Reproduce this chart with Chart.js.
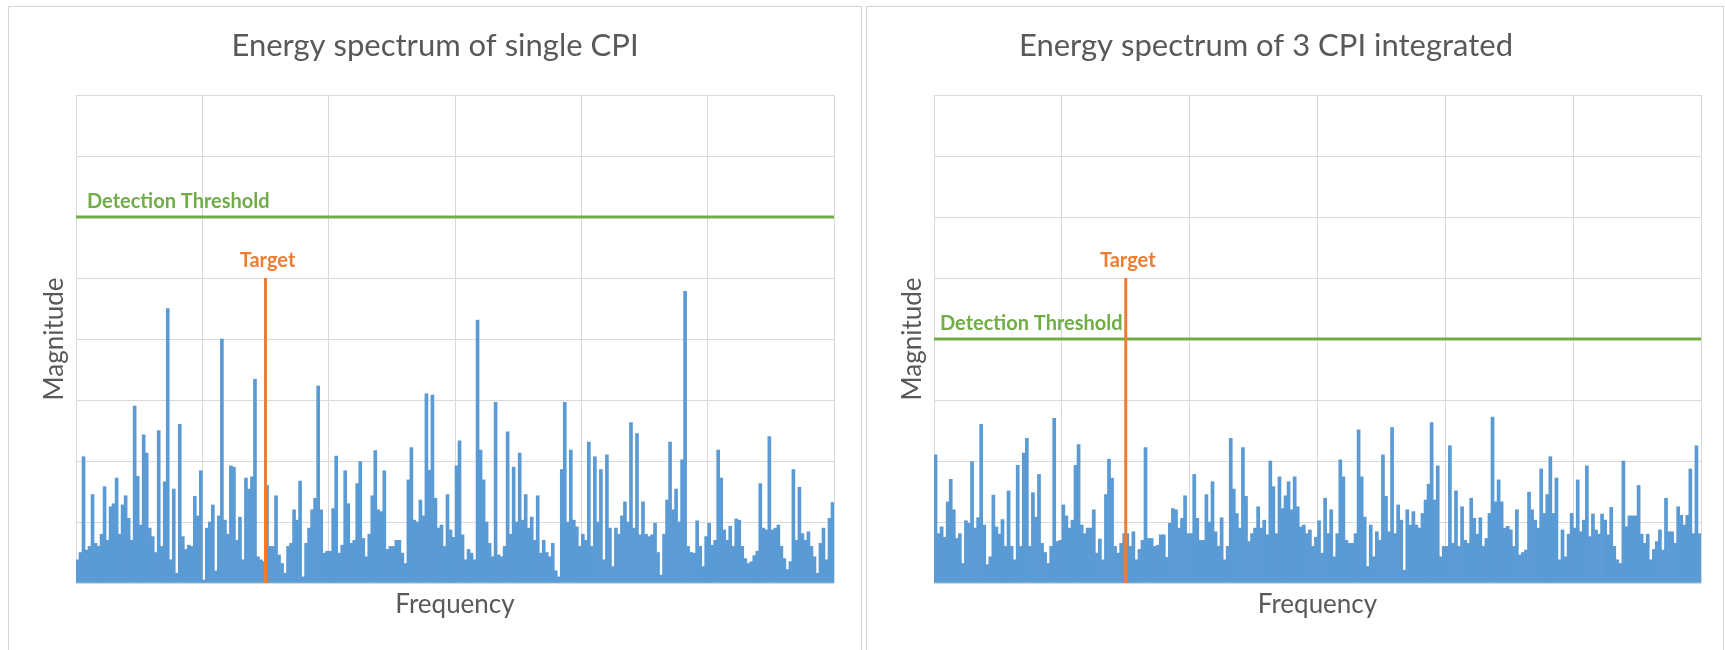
<!DOCTYPE html>
<html><head><meta charset="utf-8">
<script src="https://cdn.jsdelivr.net/npm/chart.js@4.4.0/dist/chart.umd.min.js"></script>
<style>
html,body{margin:0;padding:0;background:#fff;width:1725px;height:650px;overflow:hidden;}
.panel{position:absolute;border:1px solid #d4d4d4;box-sizing:border-box;}
canvas{position:absolute;left:0;top:0;}
</style></head><body>
<div class="panel" style="left:8px;top:6px;width:854px;height:680px"></div>
<div class="panel" style="left:866px;top:6px;width:858px;height:680px"></div>
<canvas id="c1" width="1725" height="650"></canvas>
<canvas id="c2" width="1725" height="650"></canvas>
<script>
const binCount = 252;
const targetBin = 63;
const targetLevel = 5;
const singleThreshold = 6;
const integratedThreshold = 4;
const yMax = 8;

const singleCpi = [
0.38,0.5,2.07,0.54,0.6,1.45,0.65,0.6,0.8,1.58,
0.7,1.25,1.3,1.72,0.8,1.28,1.43,1.06,0.7,2.9,
1.75,0.95,2.43,2.13,0.9,0.76,0.5,2.5,0.6,1.66,
4.5,0.38,1.54,0.16,2.6,0.76,0.55,0.62,0.6,1.42,
1.1,1.84,0.05,0.9,1.0,1.28,0.2,1.1,4.0,1.03,
0.8,1.92,1.9,0.7,1.08,0.38,1.72,1.54,1.74,3.34,
0.43,0.38,0.35,1.6,0.6,0.6,1.43,0.46,0.32,0.16,
0.6,0.65,1.2,1.03,1.67,0.1,0.65,0.9,1.2,1.39,
3.23,1.2,0.49,0.52,0.52,1.22,2.08,0.49,0.62,1.84,
1.3,0.65,0.7,1.63,1.99,0.73,0.43,0.8,1.43,2.17,
1.2,1.17,1.84,0.55,0.6,0.6,0.7,0.7,0.49,0.32,
1.69,2.22,1.03,1.0,1.36,1.1,3.1,1.85,3.08,1.39,
0.9,0.95,0.6,1.45,0.87,0.75,1.92,2.33,0.79,0.38,
0.55,0.49,0.38,4.31,2.18,1.69,1.0,0.65,0.43,2.96,
0.46,0.43,0.6,2.48,0.8,1.9,1.0,2.13,1.03,1.45,
0.9,1.08,0.7,1.43,0.49,0.7,0.5,0.43,0.65,0.2,
0.1,1.86,2.96,1.0,2.18,1.03,0.92,0.6,0.8,0.7,
2.31,0.6,2.07,1.0,1.86,0.38,2.1,0.9,0.27,0.9,
0.8,1.1,1.33,1.0,2.63,0.9,2.45,0.79,1.33,0.8,
0.76,0.79,0.98,0.5,0.13,0.8,1.36,2.31,1.2,1.54,
1.0,2.02,4.78,0.6,0.5,0.49,1.02,0.6,0.27,0.76,
0.98,0.62,0.7,2.18,1.72,0.87,0.7,0.93,0.6,1.05,
1.03,0.6,0.4,0.32,0.35,0.45,0.52,1.63,0.9,0.87,
2.4,0.87,0.9,0.95,0.6,0.4,0.22,0.35,1.86,0.7,
1.57,0.81,0.7,0.84,0.6,0.43,0.16,0.65,0.9,0.38,
1.06,1.32
];

const integratedCpi = [
2.1,0.81,0.92,0.75,1.33,1.7,1.2,0.73,0.81,0.32,
1.02,0.98,1.99,0.9,1.07,2.6,0.95,0.3,0.43,1.44,
0.92,0.8,1.04,0.6,1.51,0.6,0.38,1.93,0.6,2.13,
2.37,0.6,1.48,1.08,1.78,0.65,0.5,0.32,0.6,2.7,
0.68,0.7,1.28,1.1,0.9,1.03,1.93,2.27,0.95,0.81,
0.9,0.9,1.2,0.49,0.72,0.38,1.45,2.03,1.72,0.6,
0.49,0.65,0.81,0.81,0.6,0.84,0.38,0.55,0.7,2.22,
0.73,0.73,0.6,0.62,0.79,0.79,0.42,0.98,1.22,1.2,
0.9,1.06,1.43,0.81,0.81,1.78,1.06,0.7,0.7,1.45,
1.0,1.66,0.84,0.6,1.07,0.38,0.6,2.37,1.54,1.14,
0.9,2.22,1.42,0.68,0.81,0.9,1.25,0.9,1.03,0.79,
2.0,1.58,0.81,1.74,1.22,1.43,1.66,1.2,1.74,1.25,
0.92,0.95,0.81,0.87,0.6,0.75,1.02,0.49,1.39,0.81,
1.2,0.43,0.81,2.02,1.74,0.7,0.65,0.65,0.81,2.51,
1.74,1.08,0.27,0.95,0.43,0.84,0.7,2.1,1.42,0.84,
2.55,0.81,1.28,1.03,0.21,1.2,0.95,1.17,0.95,0.9,
1.14,1.36,1.62,2.63,1.36,1.92,0.43,0.6,0.6,2.25,
0.65,1.51,0.6,1.25,0.7,0.65,1.39,1.06,0.8,1.07,
0.6,0.73,1.14,2.72,1.33,1.69,1.33,0.9,0.93,0.87,
0.6,1.2,0.46,0.5,0.54,1.49,1.2,1.03,0.9,1.87,
1.14,1.45,2.07,1.14,1.72,0.38,0.87,0.43,0.8,1.14,
0.9,1.69,0.84,1.03,1.92,0.76,1.13,0.87,0.8,1.13,
1.03,0.79,1.24,0.6,0.38,0.32,2.0,0.92,1.1,1.1,
1.1,1.6,0.8,0.65,0.8,0.38,0.55,0.68,0.87,0.54,
1.39,0.84,0.84,0.65,1.25,1.11,0.95,1.11,1.87,0.81,
2.25,0.81
];

const chartTitles = ["Energy spectrum of single CPI", "Energy spectrum of 3 CPI integrated"];
const xAxisTitle = "Frequency";
const yAxisTitle = "Magnitude";
const thresholdLabel = "Detection Threshold";
const targetLabel = "Target";

const FONT = "Lato, 'Open Sans', sans-serif";
const GREY = '#595959';
const BLUE = '#5B9BD5';
const GREEN = '#70AD47';
const ORANGE = '#ED7D31';
const GRID = '#d9d9d9';

function makeChart(id, values, threshold, title, pad, titleX, yTitleX, thrOffset) {
  const annot = {
    id: 'annot_' + id,
    afterDatasetsDraw(chart) {
      const ctx = chart.ctx, xs = chart.scales.x, ys = chart.scales.y, a = chart.chartArea;
      ctx.save();
      ctx.font = 'bold 20px ' + FONT;
      ctx.textBaseline = 'alphabetic';
      ctx.fillStyle = GREEN;
      ctx.textAlign = 'left';
      ctx.fillText(thresholdLabel, a.left + thrOffset, ys.getPixelForValue(threshold) - 9);
      ctx.fillStyle = ORANGE;
      ctx.textAlign = 'center';
      ctx.fillText(targetLabel, xs.getPixelForValue(targetBin) + 2, ys.getPixelForValue(targetLevel) - 11);
      ctx.restore();
    },
    afterDraw(chart) {
      const ctx = chart.ctx, a = chart.chartArea;
      ctx.save();
      ctx.fillStyle = GREY;
      ctx.textBaseline = 'alphabetic';
      ctx.textAlign = 'center';
      ctx.font = '31px ' + FONT;
      ctx.fillText(title, titleX, 56);
      ctx.font = '26px ' + FONT;
      ctx.fillText(xAxisTitle, (a.left + a.right) / 2, 613);
      ctx.translate(yTitleX, (a.top + a.bottom) / 2);
      ctx.rotate(-Math.PI / 2);
      ctx.textBaseline = 'middle';
      ctx.fillText(yAxisTitle, 0, 0);
      ctx.restore();
    }
  };
  return new Chart(document.getElementById(id), {
    type: 'bar',
    data: {
      datasets: [
        { type: 'line', data: [{x: targetBin, y: 0}, {x: targetBin, y: targetLevel}],
          borderColor: ORANGE, borderWidth: 3, pointRadius: 0, order: 0 },
        { type: 'line', data: [{x: 0, y: threshold}, {x: binCount, y: threshold}],
          borderColor: GREEN, borderWidth: 3, pointRadius: 0, order: 1 },
        { type: 'bar', data: values.map((v, i) => ({x: i + 0.5, y: v})),
          backgroundColor: BLUE, borderWidth: 0, barPercentage: 1, categoryPercentage: 1, order: 2 }
      ]
    },
    options: {
      responsive: false, animation: false, devicePixelRatio: 1,
      layout: { padding: pad },
      plugins: { legend: { display: false }, tooltip: { enabled: false }, title: { display: false } },
      scales: {
        x: { type: 'linear', min: 0, max: binCount, offset: false,
             ticks: { display: false, stepSize: binCount / 6 },
             grid: { color: GRID, drawTicks: false, offset: false }, border: { display: false } },
        y: { type: 'linear', min: 0, max: yMax,
             ticks: { display: false, stepSize: 1 },
             grid: { color: GRID, drawTicks: false }, border: { display: false } }
      }
    },
    plugins: [annot]
  });
}

makeChart('c1', singleCpi, singleThreshold, chartTitles[0],
  { left: 76, right: 1725 - 834, top: 95, bottom: 67 }, 435, 55, 11);
makeChart('c2', integratedCpi, integratedThreshold, chartTitles[1],
  { left: 934, right: 1725 - 1701, top: 95, bottom: 67 }, 1266, 913, 6);
</script>
</body></html>
